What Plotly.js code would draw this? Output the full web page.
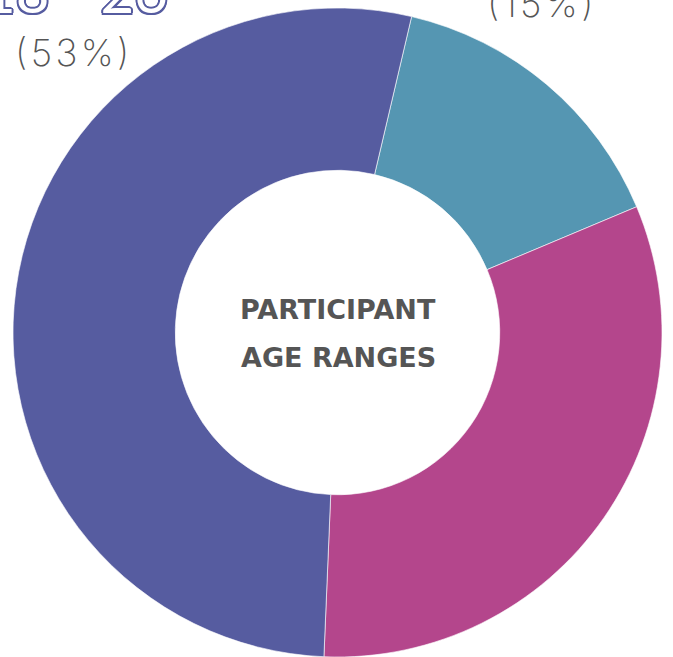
<!DOCTYPE html>
<html><head><meta charset="utf-8">
<script src="https://cdn.plot.ly/plotly-3.0.1.min.js"></script>
<style>html,body{margin:0;padding:0;background:#fff;overflow:hidden}#c{width:673px;height:657px}</style>
</head><body><div id="c"></div>
<script>
const ageLabels = ["Range B", "Range C", "18 - 26"];
const shares = [15, 32, 53];
const sliceColors = ["#5596B2", "#B4468C", "#565CA0"];
const pctLabels = ["(15%)", "(32%)", "(53%)"];
const centerLines = ["PARTICIPANT", "AGE RANGES"];

const W = 673, H = 657, M = {l: 2, r: 0, t: 8, b: 0};
const px = x => (x - M.l) / (W - M.l - M.r);
const py = y => (H - M.b - y) / (H - M.t - M.b);
const spaced = s => s.split("").join("\u200A");

const outline = c => [[-1.5,-1.5],[1.5,-1.5],[-1.5,1.5],[1.5,1.5],[0,2],[0,-2],[2,0],[-2,0]]
  .map(d => d[0] + "px " + d[1] + "px 0 " + c).join(", ");

const thinFont = {family: "'DejaVu Sans ExtraLight', Inter, sans-serif", size: 37, color: "#555555", weight: 200};

const annotations = [
  {text: centerLines[0], x: px(338), y: py(309)},
  {text: centerLines[1], x: px(338), y: py(357)}
].map(a => Object.assign({xref: "paper", yref: "paper", showarrow: false, xanchor: "center", yanchor: "middle",
  font: {family: "'DejaVu Sans', sans-serif", size: 27, color: "#555555", weight: 700}}, a));

annotations.push({text: ageLabels[2], xref: "paper", yref: "paper", x: px(75), y: py(-10), showarrow: false,
  xanchor: "center", yanchor: "middle",
  font: {family: "Lato, sans-serif", size: 58, color: "#ffffff", weight: 400, shadow: outline(sliceColors[2])}});
annotations.push({text: spaced(pctLabels[2]), xref: "paper", yref: "paper", x: px(72), y: py(52), showarrow: false,
  xanchor: "center", yanchor: "middle", font: thinFont});
annotations.push({text: spaced(pctLabels[0]), xref: "paper", yref: "paper", x: px(540), y: py(3), showarrow: false,
  xanchor: "center", yanchor: "middle", font: thinFont});

Plotly.newPlot("c", [{
  type: "pie", labels: ageLabels, values: shares, hole: 0.5, sort: false,
  direction: "clockwise", rotation: 13.2, textinfo: "none", hoverinfo: "label+percent",
  marker: {colors: sliceColors, line: {color: "rgba(255,255,255,0.6)", width: 1}},
  domain: {x: [0, 1], y: [0, 1]}
}], {
  width: W, height: H, margin: M, showlegend: false,
  paper_bgcolor: "#ffffff", plot_bgcolor: "#ffffff", annotations: annotations
}, {displayModeBar: false, staticPlot: true});
</script></body></html>
